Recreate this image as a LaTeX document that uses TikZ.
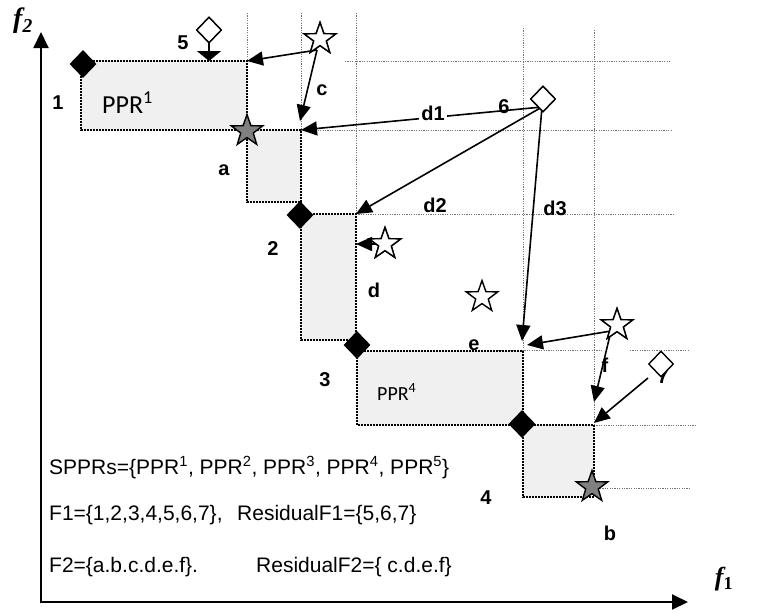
\documentclass[tikz,border=0pt]{standalone}
\usepackage{fontspec}
\setmainfont{Liberation Sans}
\newfontfamily\calfont{Carlito}
\newfontfamily\serifbi{Liberation Serif}
\usetikzlibrary{shapes.geometric,arrows.meta}

\tikzset{
  gridline/.style={draw=black!55, line width=0.7pt, dash pattern=on 1.2pt off 1.2pt},
  ppr/.style={fill=black!6, draw=black, line width=1.8pt, dash pattern=on 1.6pt off 1.4pt},
  conn/.style={draw=black, line width=1.6pt, -{Triangle[length=16pt,width=14pt]}},
  flathead/.style={draw=black, line width=1.6pt, -{Triangle[length=10pt,width=24pt]}},
  axisline/.style={draw=black, line width=2pt, {Triangle[length=16pt,width=15pt]}-{Triangle[length=16pt,width=15pt]}},
  blackdia/.style={diamond, fill=black, draw=none, minimum width=27pt, minimum height=28pt, inner sep=0pt},
  opendia/.style={diamond, fill=white, draw=black, line width=1.4pt, minimum width=25pt, minimum height=26pt, inner sep=0pt},
  whitestar/.style={star, star points=5, star point ratio=2.5, minimum size=33pt, inner sep=0pt, draw=black, line width=1.4pt, fill=white},
  graystar/.style={whitestar, fill=black!50},
  lbl/.style={font=\fontsize{20}{20}\selectfont\bfseries, inner sep=0pt},
  txt/.style={font=\fontsize{21}{21}\selectfont, inner sep=0pt, anchor=base west},
  axlbl/.style={font=\serifbi\fontsize{28}{28}\selectfont\bfseries\itshape, inner sep=0pt},
}

\begin{document}
\begin{tikzpicture}[x=1pt, y=-1pt]
\useasboundingbox (0,0) rectangle (758,613);

% reference grid
\draw[gridline] (247,13) -- (247,61);
\draw[gridline] (301,13) -- (301,130);
\draw[gridline] (356,13) -- (356,214);
\draw[gridline] (523,28) -- (523,350);
\draw[gridline] (594,30) -- (594,425);
\draw[gridline] (345,61) -- (670,61);
\draw[gridline] (301,130) -- (673,130);
\draw[gridline] (356,214) -- (673,214);
\draw[gridline] (498,350) -- (602,350);
\draw[gridline] (630,350) -- (690,350);
\draw[gridline] (594,425) -- (697,425);
\draw[gridline] (600,488) -- (690,488);

% Pareto-preferred regions
\path[ppr] (81,61) rectangle (247,130);
\path[ppr] (247,130) rectangle (301,202);
\path[ppr] (301,214) rectangle (356,340);
\path[ppr] (357,351) rectangle (523,425);
\path[ppr] (523,425) rectangle (594,497);

% axes
\coordinate (O) at (41,602);
\coordinate (ytip) at (41,32);
\coordinate (xtip) at (688,602);
\draw[axisline] (ytip) -- (O) -- (xtip);
\node[axlbl] (f2) at (23,21) {f\textsubscript{2}};
\node[axlbl, font=\serifbi\fontsize{26}{26}\selectfont\bfseries\itshape] (f1) at (724,579) {f\textsubscript{\upshape 1}};

% arrow targets on the region corners
\coordinate (t5) at (209,61);
\coordinate (tc1) at (247,61);
\coordinate (tc2) at (300,121);
\coordinate (td1) at (301,130);
\coordinate (td2) at (356,214);
\coordinate (td3) at (522,341);
\coordinate (tdd) at (356,244);
\coordinate (te) at (527,345);
\coordinate (tf) at (594,402);
\coordinate (t7) at (594,423);

% arrow origins
\coordinate (oc) at (317,50);
\coordinate (o6) at (542,107);
\coordinate (of) at (611,331);
\coordinate (o7) at (648,378);

% points
\node[opendia] (p5) at (209,30) {};
\node[whitestar] (sc) at (320,39) {};
\node[opendia] (p6) at (543,99) {};
\node[whitestar] (sd) at (385,244) {};
\node[whitestar] (sx) at (482,297) {};
\node[whitestar] (sf) at (617,325) {};

% connectors
\draw[flathead] (p5.center) -- (t5);
\draw[conn] (oc) -- (tc1);
\draw[conn] (oc) -- (tc2);
\draw[conn] (o6) -- (td1);
\draw[conn] (o6) -- (td2);
\draw[conn] (o6) -- (td3);
\draw[conn] (sd.center) -- (tdd);
\draw[conn] (of) -- (te);
\draw[conn] (of) -- (tf);
\draw[conn] (o7) -- (t7);

% redraw open symbols above their connectors
\node[opendia] at (p5) {};
\node[whitestar] at (sc) {};
\node[opendia] at (p6) {};
\node[whitestar] at (sd) {};
\node[whitestar] at (sf) {};

% label 7 sits beneath its diamond
\node[lbl] (l7) at (663,377) {7};
\node[opendia] (p7) at (661,364) {};

% filled symbols
\node[blackdia] (b1) at (83,64) {};
\node[blackdia] (b2) at (300,215) {};
\node[blackdia] (b3) at (357,345) {};
\node[blackdia] (b4) at (522,424) {};
\node[graystar] (sa) at (247,131) {};
\node[graystar] (sb) at (592,487) {};

% labels
\node[lbl] (l5) at (183,43) {5};
\node[lbl] (l1) at (58,103) {1};
\node[lbl] (lc) at (322,90) {c};
\node[lbl] (la) at (224,170) {a};
\node[lbl, fill=white, inner sep=2pt] (ld1) at (433,113) {d1};
\node[lbl] (l6) at (504,107) {6};
\node[lbl] (ld2) at (435,205) {d2};
\node[lbl] (ld3) at (555,208) {d3};
\node[lbl] (l2) at (273,249) {2};
\node[lbl] (ld) at (374,290) {d};
\node[lbl] (l3) at (325,380) {3};
\node[lbl] (le) at (474,345) {e};
\node[lbl] (lf) at (605,365) {f};
\node[lbl] (l4) at (486,498) {4};
\node[lbl] (lb) at (610,533) {b};

\node[anchor=base west, inner sep=0pt, font=\calfont\fontsize{26}{26}\selectfont] (ppr1) at (102,113) {PPR\textsuperscript{1}};
\node[anchor=base west, inner sep=0pt, font=\calfont\fontsize{20}{20}\selectfont] (ppr4) at (377,400) {PPR\textsuperscript{4}};

% set summaries
\node[txt] (spprs) at (49,474) {SPPRs=\{PPR\textsuperscript{1}, PPR\textsuperscript{2}, PPR\textsuperscript{3}, PPR\textsuperscript{4}, PPR\textsuperscript{5}\}};
\node[txt] (F1) at (49,520) {F1=\{1,2,3,4,5,6,7\},};
\node[txt] (R1) at (237,520) {ResidualF1=\{5,6,7\}};
\node[txt] (F2) at (49,572) {F2=\{a.b.c.d.e.f\}.};
\node[txt] (R2) at (256,572) {ResidualF2=\{ c.d.e.f\}};
\end{tikzpicture}
\end{document}
